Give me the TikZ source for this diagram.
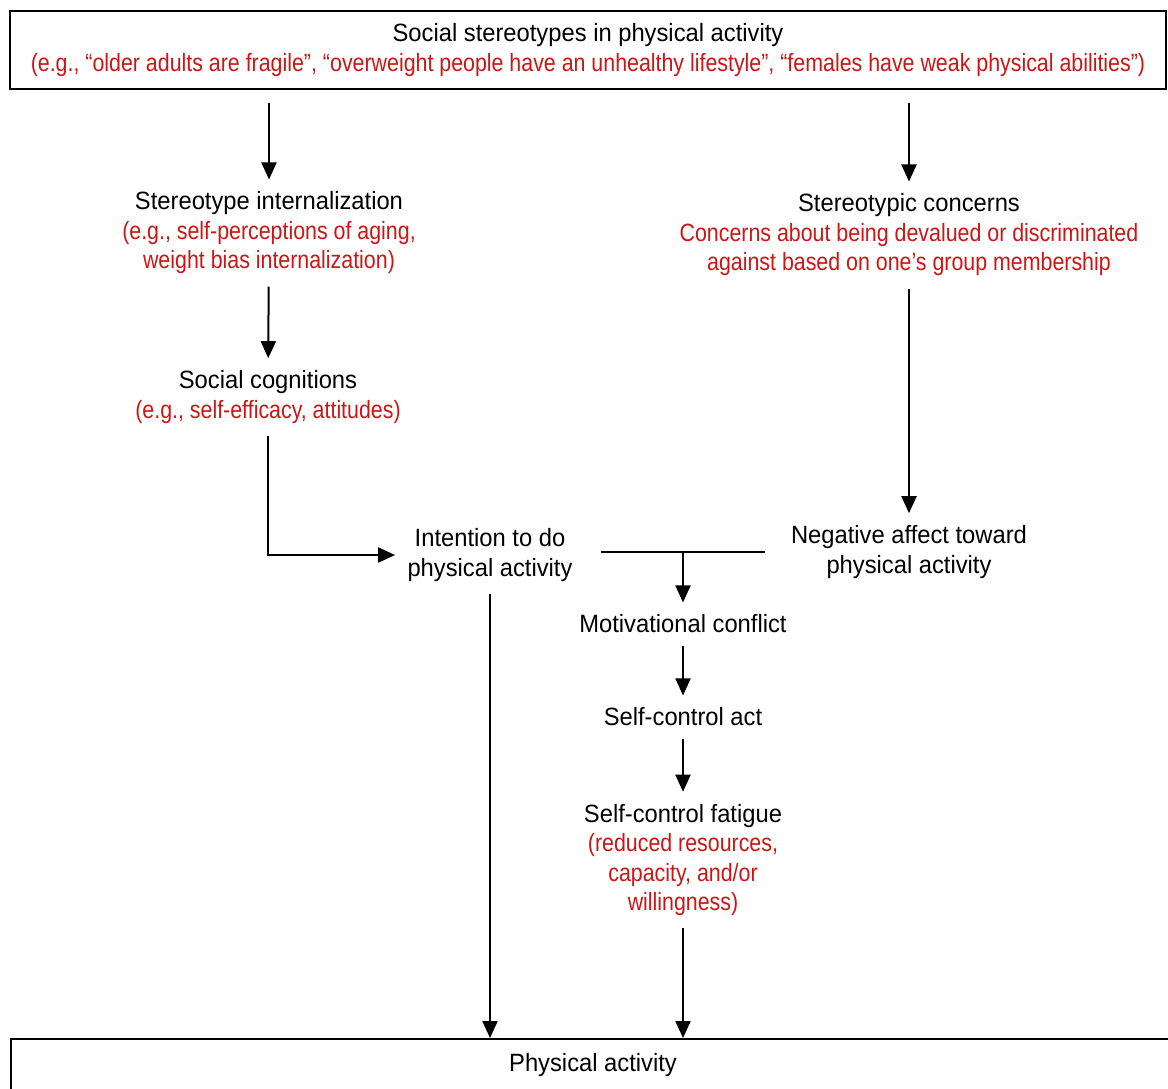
\documentclass[tikz,border=0pt]{standalone}
\usepackage{fontspec}
\setmainfont{Liberation Sans}[FakeStretch=0.95]
\newfontfamily\exfont{Liberation Sans}[FakeStretch=0.855]
\usetikzlibrary{arrows.meta}
\definecolor{exred}{RGB}{204,22,22}
\newcommand{\ex}[1]{\textcolor{exred}{\exfont #1}}
\tikzset{
  lbl/.style={align=center, font=\fontsize{12.5}{14.75}\selectfont, inner sep=6pt},
  frame/.style={draw, line width=1pt, align=center, font=\fontsize{12.5}{14.75}\selectfont, inner sep=0pt},
  arr/.style={line width=1pt, -{Triangle[length=8.5pt,width=7.5pt]}},
  bar/.style={line width=1pt}
}
\begin{document}
\begin{tikzpicture}[x=0.5pt, y=-0.5pt]
  \useasboundingbox (0,0) rectangle (1168,1088);
  % boxes top and bottom
  \node[frame, minimum width=578pt, minimum height=39pt] (soc) at (588,50)
    {Social stereotypes in physical activity\\
     \ex{(e.g., “older adults are fragile”, “overweight people have an unhealthy lifestyle”, “females have weak physical abilities”)}};
  \node[frame, anchor=north west, minimum width=582pt, text height=16pt, text depth=20pt] (pa) at (10,1038)
    {Physical activity};
  % left branch
  \node[lbl] (intern) at (269,233)
    {Stereotype internalization\\ \ex{(e.g., self-perceptions of aging,}\\ \ex{weight bias internalization)}};
  \node[lbl] (cogn) at (268,397)
    {Social cognitions\\ \ex{(e.g., self-efficacy, attitudes)}};
  \node[lbl] (intent) at (490,555)
    {Intention to do\\ physical activity};
  % right branch
  \node[lbl] (concern) at (909,235)
    {Stereotypic concerns\\ \ex{Concerns about being devalued or discriminated}\\ \ex{against based on one’s group membership}};
  \node[lbl] (negaff) at (909,552)
    {Negative affect toward\\ physical activity};
  % middle chain
  \node[lbl] (motconf) at (683,624) {Motivational conflict};
  \node[lbl] (scact) at (683,717) {Self-control act};
  \node[lbl] (fatigue) at (683,860)
    {Self-control fatigue\\ \ex{(reduced resources,}\\ \ex{capacity, and/or}\\ \ex{willingness)}};
  % connectors
  \draw[arr, shorten <=6.5pt] (soc.south -| intern) -- (intern.north);
  \draw[arr, shorten <=6.5pt] (soc.south -| concern) -- (concern.north);
  \draw[arr] (intern) -- (cogn);
  \draw[arr] (cogn.south) |- (intent.west);
  \draw[arr] (concern) -- (negaff);
  \draw[bar, shorten <=8pt, shorten >=7pt] (intent.east |- negaff.west) -- (negaff.west);
  \draw[arr] (motconf.north |- negaff.west) -- (motconf.north);
  \draw[arr] (motconf) -- (scact);
  \draw[arr] (scact) -- (fatigue);
  \draw[arr] (intent.south) -- (intent.south |- pa.north);
  \draw[arr] (fatigue.south) -- (fatigue.south |- pa.north);
\end{tikzpicture}
\end{document}
